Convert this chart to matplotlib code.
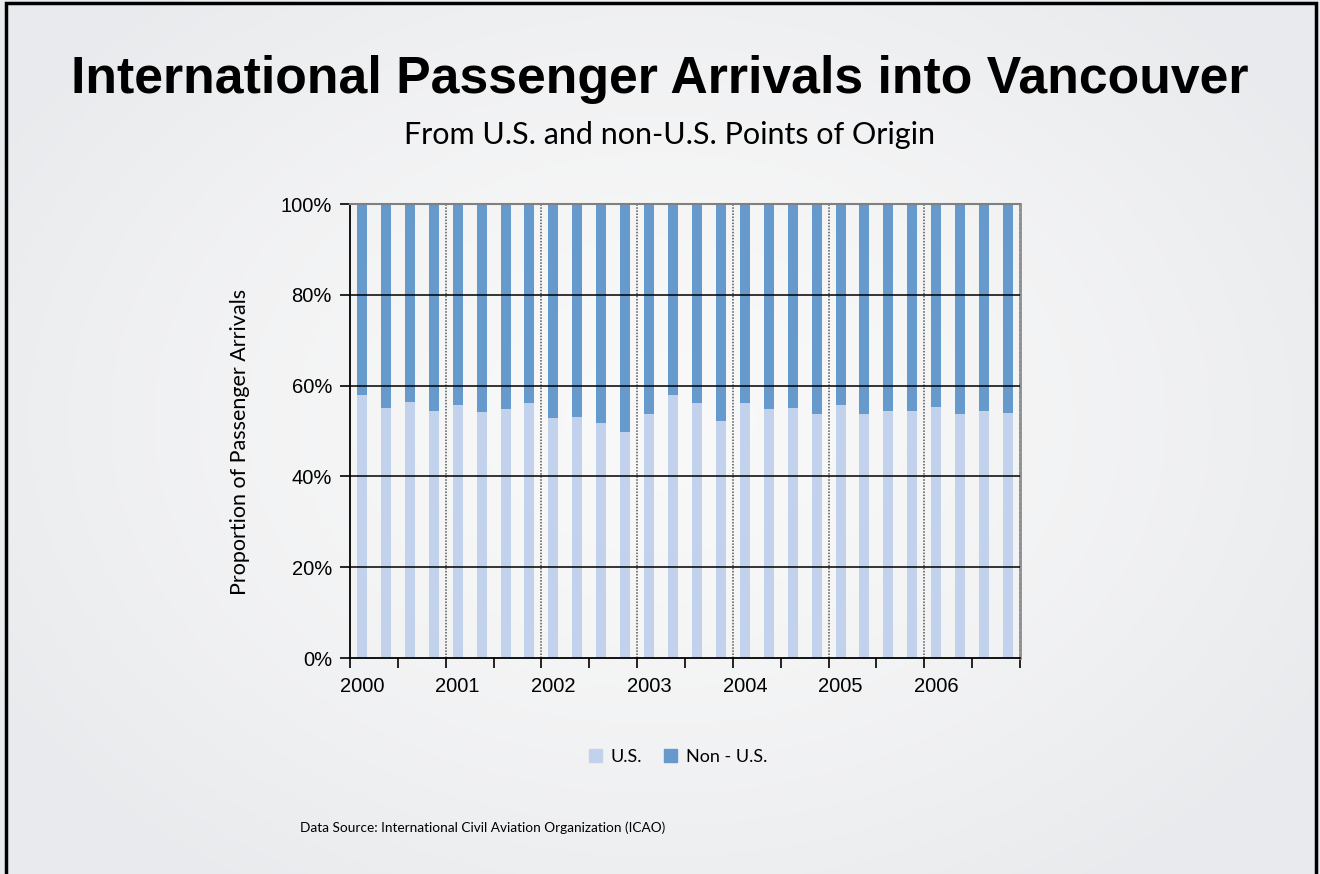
import numpy as np
import matplotlib.pyplot as plt
from matplotlib.patches import Patch

# Données (en %)
annees = ["2000", "2001", "2002", "2003", "2004", "2005", "2006"]
part_us = [57.9, 55.1, 56.4, 54.4,
           55.7, 54.2, 54.8, 56.2,
           52.9, 53.1, 51.8, 49.8,
           53.7, 57.9, 56.2, 52.2,
           56.2, 54.8, 55.1, 53.7,
           55.7, 53.7, 54.4, 54.4,
           55.3, 53.7, 54.4, 53.9]
part_non_us = [100 - v for v in part_us]

c_us = "#C2D2EC"
c_non_us = "#6699CC"
police = ["Lato", "DejaVu Sans"]
police_axes = ["Liberation Sans", "DejaVu Sans"]

W, H = 1320, 874
fig = plt.figure(figsize=(W / 100, H / 100), dpi=100)

# Fond dégradé radial + cadre
fond = fig.add_axes([0, 0, 1, 1], zorder=-5)
yy, xx = np.mgrid[0:H, 0:W]
r = np.sqrt(((xx - 660) / 760) ** 2 + ((yy - 420) / 560) ** 2)
r = np.clip(r, 0, 1)
c0 = np.array([0.975, 0.975, 0.975])
c1 = np.array([0.915, 0.920, 0.930])
img = c0 + (c1 - c0) * r[..., None] ** 1.5
fond.imshow(img, extent=[0, W, H, 0], aspect="auto")
fond.plot([6, 6, 1316, 1316], [H, 3, 3, H], color="black", lw=2.5,
          solid_joinstyle="miter")
fond.set_xlim(0, W)
fond.set_ylim(H, 0)
fond.axis("off")

# Axes principaux
ax = fig.add_axes([350 / W, 1 - 658 / H, 670 / W, 454 / H])
ax.set_facecolor("none")
x = np.arange(len(part_us))
ax.bar(x, part_us, width=0.42, color=c_us, zorder=2)
ax.bar(x, part_non_us, width=0.42, bottom=part_us, color=c_non_us, zorder=2)

ax.set_xlim(-0.5, len(part_us) - 0.5)
ax.set_ylim(0, 100)

for v in [20, 40, 60, 80]:
    ax.axhline(v, color="black", lw=1.1, zorder=3)
for b in np.arange(3.5, len(part_us) - 1, 4):
    ax.axvline(b, color="#555555", lw=1.1, ls=(0, (1, 1)), zorder=1)

ax.set_yticks([0, 20, 40, 60, 80, 100])
ax.set_yticklabels([f"{v}%" for v in [0, 20, 40, 60, 80, 100]],
                   fontsize=14.5, family=police_axes)
ax.tick_params(axis="y", direction="out", length=7, width=1.2, pad=6)

ax.set_xticks(np.arange(0, len(part_us), 4))
ax.set_xticklabels(annees, fontsize=14.5, family=police_axes)
ax.tick_params(axis="x", which="major", length=0, pad=14)
ax.set_xticks(np.arange(-0.5, len(part_us), 2), minor=True)
ax.tick_params(axis="x", which="minor", direction="out", length=7, width=1.2)

ax.spines["left"].set_linewidth(1.3)
ax.spines["bottom"].set_linewidth(1.3)
ax.spines["top"].set_color("#808080")
ax.spines["top"].set_linewidth(1.5)
ax.spines["right"].set_color("#909090")
ax.spines["right"].set_linewidth(2)
ax.spines["right"].set_linestyle((0, (1, 0.6)))

ax.set_ylabel("Proportion of Passenger Arrivals", fontsize=15.5, family=police)
ax.yaxis.set_label_coords(-0.15, 0.476)

# Titres
titre = fig.text(0.5, 1 - 80 / H, "International Passenger Arrivals into Vancouver",
                 ha="center", va="center", fontsize=40, fontweight="bold",
                 family=police_axes)
fig.canvas.draw()
larg = titre.get_window_extent().width
titre.set_fontsize(40 * 1177 / larg)

fig.text(0.507, 1 - 135 / H, "From U.S. and non-U.S. Points of Origin",
         ha="center", va="center", fontsize=22, family=police)

# Légende
poignees = [Patch(color=c_us, label="U.S."), Patch(color=c_non_us, label="Non - U.S.")]
fig.legend(handles=poignees, loc="center", bbox_to_anchor=(678 / W, 1 - 757 / H),
           ncol=2, frameon=False, prop={"family": police, "size": 13},
           handlelength=0.7, handleheight=0.7, handletextpad=0.5, columnspacing=1.2)

fig.text(300 / W, 1 - 828 / H,
         "Data Source: International Civil Aviation Organization (ICAO)",
         ha="left", va="center", fontsize=9.8, family=police)

fig.savefig("out.png", dpi=100)
